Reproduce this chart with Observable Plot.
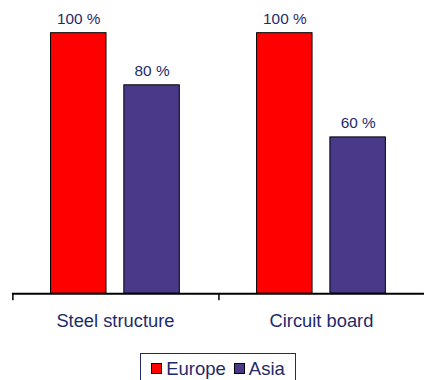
<!DOCTYPE html>
<html>
<head>
<meta charset="utf-8">
<script src="https://cdn.jsdelivr.net/npm/d3@7"></script>
<script src="https://cdn.jsdelivr.net/npm/@observablehq/plot@0.6"></script>
<style>
  html, body { margin: 0; padding: 0; background: #fff; overflow: hidden; width: 424px; height: 380px; }
  body { font-family: "Liberation Sans", Arial, sans-serif; }
  #legend {
    position: absolute; left: 140px; top: 353px;
    width: 156px; height: 30px; box-sizing: border-box;
    border: 1px solid #1f2a6b; border-bottom: none;
    display: flex; align-items: center; justify-content: center; gap: 8px;
    color: #1f2a6b; font-size: 18.5px;
  }
  .item { display: flex; align-items: center; gap: 4px; }
  .sw { width: 9px; height: 9px; border: 1px solid #000; display: inline-block; }
</style>
</head>
<body>
<div id="chart"></div>
<div id="legend"></div>
<script>
const categories = ["Steel structure", "Circuit board"];
const series = ["Europe", "Asia"];
const europe = [100, 100];
const asia = [80, 60];
const colors = ["#ff0000", "#4a3888"];

const data = categories.flatMap((c, i) => [
  {category: c, series: "Europe", value: europe[i]},
  {category: c, series: "Asia", value: asia[i]}
]);

const navy = "#1f2a6b";
const groupWidth = 208;
const paddingInner = 0.24, paddingOuter = 0.507;
const step = groupWidth / (series.length - paddingInner + 2 * paddingOuter);
const bandwidth = step * (1 - paddingInner);
const tickDx = -(paddingOuter * step + bandwidth / 2);

const plot = Plot.plot({
  width: 428,
  height: 350,
  marginLeft: 12,
  marginRight: 0,
  marginTop: 33,
  marginBottom: 54,
  style: {fontFamily: "'Liberation Sans', Arial, sans-serif", background: "transparent"},
  fx: {domain: categories, padding: 0, axis: null},
  x: {domain: series, paddingInner, paddingOuter, axis: null},
  y: {domain: [0, 100], axis: null},
  color: {domain: series, range: colors},
  marks: [
    Plot.barY(data, {fx: "category", x: "series", y: "value", fill: "series", stroke: "#000", strokeWidth: 1}),
    Plot.text(data, {fx: "category", x: "series", y: "value", text: d => d.value + " %",
      lineAnchor: "bottom", dy: -9, fill: navy, fontSize: 15.5}),
    Plot.ruleY([0], {stroke: "#000", strokeWidth: 2}),
    Plot.ruleX(categories, {fx: d => d, x: () => series[0], dx: tickDx, y1: 0, y2: 0, insetBottom: -7, stroke: "#000", strokeWidth: 1.5}),
    Plot.text(categories, {fx: d => d, frameAnchor: "bottom", lineAnchor: "top", dy: 20, text: d => d, fill: navy, fontSize: 18.5})
  ]
});
document.getElementById("chart").appendChild(plot);

const legend = document.getElementById("legend");
series.forEach((s, i) => {
  const item = document.createElement("span");
  item.className = "item";
  item.innerHTML = `<span class="sw" style="background:${colors[i]}"></span><span>${s}</span>`;
  legend.appendChild(item);
});
</script>
</body>
</html>
